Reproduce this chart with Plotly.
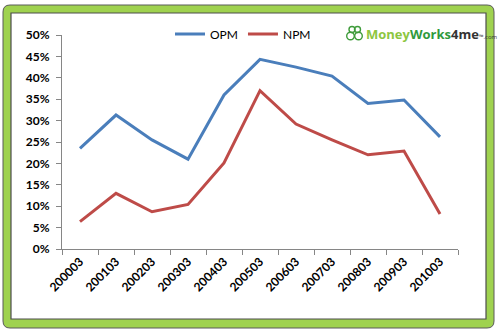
import plotly.graph_objects as go

# Financial years (YYYYMM) and margin ratios
years = ["200003", "200103", "200203", "200303", "200403", "200503",
         "200603", "200703", "200803", "200903", "201003"]
opm = [0.235, 0.313, 0.255, 0.210, 0.360, 0.443, 0.425, 0.404, 0.340, 0.348, 0.262]
npm = [0.064, 0.130, 0.087, 0.104, 0.201, 0.370, 0.292, 0.255, 0.220, 0.229, 0.082]

W, H = 500, 334
L, R, T, B = 62, 42, 35, 85
PW, PH = W - L - R, H - T - B


def px(x):
    return (x - L) / PW


def py(y):
    return (H - B - y) / PH


def rounded_path(x0, y0, x1, y1, r):
    # rounded rectangle in paper coordinates, from pixel corners
    rx, ry = r / PW, r / PH
    a, b, c, d = px(x0), py(y0), px(x1), py(y1)
    return (f"M {a+rx},{b} L {c-rx},{b} Q {c},{b} {c},{b-ry} "
            f"L {c},{d+ry} Q {c},{d} {c-rx},{d} L {a+rx},{d} "
            f"Q {a},{d} {a},{d+ry} L {a},{b-ry} Q {a},{b} {a+rx},{b} Z")


fig = go.Figure()
fig.add_trace(go.Scatter(x=years, y=opm, name="OPM", mode="lines",
                         line=dict(color="#4A7EBB", width=3)))
fig.add_trace(go.Scatter(x=years, y=npm, name="NPM", mode="lines",
                         line=dict(color="#BE4B48", width=3)))

shapes = [
    # green outer frame
    dict(type="path", xref="paper", yref="paper", layer="below",
         path=rounded_path(3, 5, 494, 328, 7),
         fillcolor="#9FD24F", line=dict(color="#5A5A5A", width=1)),
    # white inner panel
    dict(type="rect", xref="paper", yref="paper", layer="below",
         x0=px(11), y0=py(13), x1=px(486), y1=py(319),
         fillcolor="white", line=dict(color="#4D4D4D", width=1.2)),
]

# logo icon: linked rings
for cx, cy, r in [(352, 29.5, 3), (357.5, 29.5, 3), (350.5, 36, 3.8), (358.5, 36, 3.8)]:
    shapes.append(dict(type="circle", xref="paper", yref="paper",
                       x0=px(cx - r), x1=px(cx + r), y0=py(cy - r), y1=py(cy + r),
                       line=dict(color="#3E9B3A", width=1.4), fillcolor="rgba(0,0,0,0)"))

fig.update_layout(
    width=W, height=H,
    margin=dict(l=L, r=R, t=T, b=B),
    paper_bgcolor="white",
    plot_bgcolor="rgba(0,0,0,0)",
    shapes=shapes,
    font=dict(family="Lato, Open Sans, sans-serif", color="#000000"),
    legend=dict(orientation="h", x=px(170), y=py(34), xanchor="left", yanchor="middle",
                font=dict(size=12, family="Lato, Open Sans, sans-serif"),
                bgcolor="rgba(0,0,0,0)", itemwidth=30, tracegroupgap=0),
    annotations=[
        dict(xref="paper", yref="paper", x=px(364), y=py(34), xanchor="left", yanchor="middle",
             showarrow=False,
             text="<b><span style='color:#8DC63F'>Money</span>"
                  "<span style='color:#2F9A3C'>Works</span>"
                  "<span style='color:#333333'>4me</span></b>"
                  "<span style='font-size:6px;color:#333333'>™.com</span>",
             font=dict(size=13, family="Open Sans, sans-serif")),
    ],
    showlegend=True,
)

fig.update_xaxes(
    type="category", range=[-0.5, 10.5], tickson="boundaries",
    showline=True, linecolor="#868686", linewidth=1,
    ticks="outside", ticklen=5, tickcolor="#868686",
    tickangle=-45, showgrid=False, zeroline=False,
    tickfont=dict(size=12, family="Lato, sans-serif", weight="bold"),
)
fig.update_yaxes(
    range=[0, 0.5], dtick=0.05, tickformat=".0%",
    showline=True, linecolor="#868686", linewidth=1,
    ticks="outside", ticklen=5, tickcolor="#868686",
    ticklabelstandoff=4,
    showgrid=False, zeroline=False,
    tickfont=dict(size=12, family="Lato, sans-serif", weight="bold"),
)

fig.write_html("out.html")
